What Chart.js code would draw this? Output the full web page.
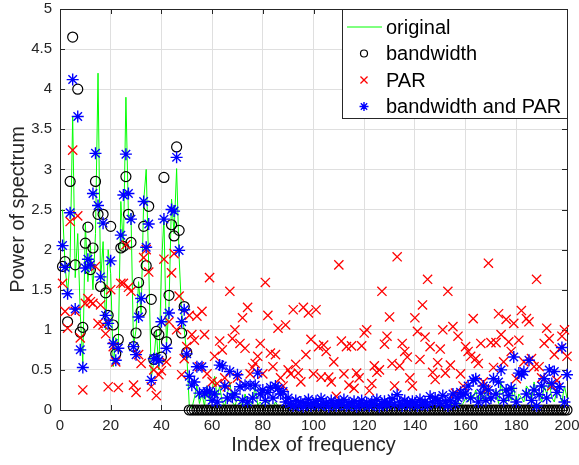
<!DOCTYPE html>
<html>
<head>
<meta charset="utf-8">
<script src="https://cdn.jsdelivr.net/npm/chart.js@4.4.0/dist/chart.umd.min.js"></script>
<style>
  html, body { margin: 0; padding: 0; background: #fff; }
  #wrap { width: 579px; height: 465px; }
</style>
</head>
<body>
<div id="wrap"><canvas id="spectrum"></canvas></div>
<script>
// spectrum power per frequency index (1..200)
const original = [
  2.5, 1.8, 1.45, 1.9, 3.66, 1.65, 2.2, 1.2, 0.58, 2.33,
  1.6, 2.05, 1.5, 2.2, 4.2, 1.6, 2.1, 1.0, 2.0, 1.7,
  0.54, 0.9, 0.8, 2.6, 2.0, 3.9, 2.4, 2.45, 0.8, 1.0,
  1.6, 1.2, 2.6, 3.0, 1.8, 0.4, 0.6, 1.0, 0.5, 1.77,
  2.4, 0.8, 1.3, 2.63, 2.2, 3.01, 1.9, 1.2, 1.0, 0.7,
  0.05, 0.02, 0.15, 0.30, 0.08, 0.20, 0.05, 0.30, 0.10, 0.25,
  0.42, 0.15, 0.30, 0.10, 0.05, 0.20, 0.35, 0.10, 0.05, 0.15,
  0.10, 0.05, 0.20, 0.08, 0.05, 0.12, 0.30, 0.06, 0.10, 0.05,
  0.08, 0.12, 0.05, 0.03, 0.10, 0.05, 0.02, 0.06, 0.03, 0.02,
  0.03, 0.01, 0.04, 0.02, 0.03, 0.05, 0.02, 0.01, 0.03, 0.02,
  0.04, 0.02, 0.03, 0.01, 0.02, 0.04, 0.03, 0.02, 0.01, 0.03,
  0.02, 0.04, 0.01, 0.03, 0.02, 0.01, 0.03, 0.02, 0.04, 0.02,
  0.01, 0.03, 0.02, 0.04, 0.01, 0.02, 0.03, 0.01, 0.02, 0.04,
  0.02, 0.03, 0.05, 0.02, 0.01, 0.03, 0.02, 0.04, 0.02, 0.03,
  0.01, 0.02, 0.04, 0.03, 0.02, 0.05, 0.03, 0.02, 0.04, 0.03,
  0.02, 0.05, 0.03, 0.08, 0.05, 0.10, 0.12, 0.05, 0.08, 0.15,
  0.10, 0.20, 0.15, 0.25, 0.10, 0.20, 0.12, 0.30, 0.15, 0.10,
  0.18, 0.25, 0.08, 0.35, 0.15, 0.10, 0.20, 0.12, 0.30, 0.05,
  0.20, 0.15, 0.10, 0.30, 0.25, 0.12, 0.35, 0.20, 0.18, 0.10,
  0.30, 0.20, 0.35, 0.15, 0.10, 0.25, 0.20, 0.10, 0.30, 0.15
];

const bandwidth = [
  1.79, 1.85, 1.10, 2.85, 4.65, 1.81, 4.00, 0.97, 1.03, 2.08,
  2.28, 1.75, 2.02, 2.85, 2.44, 1.54, 2.44, 1.46, 1.18, 2.29,
  1.06, 0.70, 0.88, 2.02, 2.04, 2.91, 2.44, 2.09, 0.79, 0.96,
  1.59, 1.23, 2.29, 1.80, 2.54, 1.38, 0.63, 0.98, 0.94, 0.66,
  2.90, 0.85, 1.43, 2.31, 2.17, 3.28, 2.24, 0.96, 1.29, 0.72,
  0, 0, 0, 0, 0, 0, 0, 0, 0, 0,
  0, 0, 0, 0, 0, 0, 0, 0, 0, 0,
  0, 0, 0, 0, 0, 0, 0, 0, 0, 0,
  0, 0, 0, 0, 0, 0, 0, 0, 0, 0,
  0, 0, 0, 0, 0, 0, 0, 0, 0, 0,
  0, 0, 0, 0, 0, 0, 0, 0, 0, 0,
  0, 0, 0, 0, 0, 0, 0, 0, 0, 0,
  0, 0, 0, 0, 0, 0, 0, 0, 0, 0,
  0, 0, 0, 0, 0, 0, 0, 0, 0, 0,
  0, 0, 0, 0, 0, 0, 0, 0, 0, 0,
  0, 0, 0, 0, 0, 0, 0, 0, 0, 0,
  0, 0, 0, 0, 0, 0, 0, 0, 0, 0,
  0, 0, 0, 0, 0, 0, 0, 0, 0, 0,
  0, 0, 0, 0, 0, 0, 0, 0, 0, 0,
  0, 0, 0, 0, 0, 0, 0, 0, 0, 0
];

const par = [
  1.58, 1.23, 1.02, 2.35, 3.24, 1.23, 2.42, 0.90, 0.25, 1.33,
  1.39, 1.35, 1.33, 1.79, 1.08, 1.31, 1.06, 0.95, 0.29, 1.50,
  0.79, 0.60, 0.28, 1.58, 1.58, 2.06, 1.53, 1.48, 0.31, 0.22,
  0.69, 0.58, 1.90, 2.00, 1.72, 0.29, 0.50, 0.18, 0.44, 0.49,
  1.88, 0.60, 1.10, 1.71, 1.95, 1.00, 1.42, 0.44, 0.64, 0.79,
  1.18, 0.94, 0.87, 1.17, 0.54, 1.23, 0.94, 0.45, 1.65, 0.35,
  0.67, 0.33, 0.86, 0.75, 0.40, 0.29, 1.48, 0.89, 1.00, 0.40,
  0.83, 1.15, 0.77, 1.28, 0.45, 0.53, 0.58, 0.67, 0.83, 0.45,
  1.59, 1.18, 0.71, 0.54, 0.69, 1.02, 0.40, 0.30, 1.06, 0.50,
  0.45, 1.25, 0.57, 0.46, 0.35, 1.28, 0.69, 1.21, 0.88, 0.45,
  1.25, 0.79, 0.41, 0.81, 0.73, 0.41, 0.35, 0.60, 0.17, 1.81,
  0.86, 0.45, 0.79, 0.31, 0.80, 0.27, 0.46, 0.40, 0.80, 0.96,
  1.00, 0.24, 0.33, 0.55, 0.47, 0.50, 1.48, 0.82, 0.92, 1.16,
  0.58, 0.30, 1.91, 0.55, 0.83, 0.73, 0.66, 0.40, 0.30, 1.15,
  0.98, 0.63, 1.31, 0.91, 1.63, 0.79, 0.47, 0.38, 0.59, 0.76,
  1.00, 0.46, 1.48, 0.56, 1.04, 0.21, 0.92, 0.45, 0.30, 0.79,
  0.73, 0.67, 1.14, 0.64, 0.58, 0.83, 0.35, 0.25, 1.83, 0.84,
  0.53, 0.84, 1.20, 0.94, 0.60, 1.13, 0.85, 0.73, 1.08, 0.39,
  0.87, 1.24, 0.60, 1.14, 1.10, 0.64, 0.54, 1.63, 0.54, 0.40,
  0.83, 1.02, 0.89, 0.30, 0.69, 0.37, 0.76, 0.92, 1.00, 0.67
];

const bandwidthPar = [
  2.05, 1.78, 1.45, 2.46, 4.12, 1.26, 3.66, 0.75, 0.53, 1.77,
  1.88, 1.81, 2.70, 3.20, 2.55, 1.66, 2.33, 1.18, 1.08, 1.86,
  0.83, 0.62, 0.77, 2.18, 2.68, 3.19, 2.70, 2.38, 0.79, 0.69,
  1.16, 1.39, 2.60, 2.03, 2.32, 0.37, 0.64, 0.64, 0.62, 1.10,
  2.38, 0.77, 1.21, 2.50, 2.48, 3.15, 1.99, 1.10, 1.25, 0.70,
  0.42, 0.31, 0.35, 0.54, 0.21, 0.54, 0.21, 0.23, 0.23, 0.12,
  0.20, 0.10, 0.56, 0.55, 0.30, 0.15, 0.48, 0.16, 0.20, 0.44,
  0.29, 0.12, 0.31, 0.10, 0.31, 0.15, 0.31, 0.46, 0.20, 0.25,
  0.12, 0.22, 0.28, 0.15, 0.30, 0.27, 0.20, 0.23, 0.10, 0.15,
  0.08, 0.05, 0.12, 0.06, 0.10, 0.04, 0.09, 0.13, 0.05, 0.08,
  0.11, 0.06, 0.14, 0.07, 0.09, 0.04, 0.12, 0.08, 0.05, 0.10,
  0.07, 0.13, 0.05, 0.09, 0.06, 0.11, 0.04, 0.08, 0.12, 0.06,
  0.09, 0.05, 0.10, 0.07, 0.13, 0.04, 0.08, 0.11, 0.06, 0.09,
  0.14, 0.07, 0.19, 0.10, 0.05, 0.12, 0.08, 0.06, 0.11, 0.09,
  0.05, 0.13, 0.07, 0.10, 0.06, 0.17, 0.10, 0.15, 0.12, 0.08,
  0.18, 0.10, 0.05, 0.12, 0.20, 0.08, 0.15, 0.22, 0.19, 0.21,
  0.30, 0.15, 0.37, 0.39, 0.10, 0.21, 0.30, 0.12, 0.25, 0.15,
  0.39, 0.20, 0.35, 0.50, 0.12, 0.25, 0.18, 0.27, 0.66, 0.10,
  0.46, 0.44, 0.48, 0.20, 0.62, 0.12, 0.25, 0.05, 0.19, 0.30,
  0.39, 0.15, 0.50, 0.33, 0.48, 0.22, 0.29, 0.78, 0.10, 0.44
];

const xTicks = [0, 20, 40, 60, 80, 100, 120, 140, 160, 180, 200];
const yTicks = [0, 0.5, 1, 1.5, 2, 2.5, 3, 3.5, 4, 4.5, 5];

const FONT = "'Liberation Sans', Arial, Helvetica, sans-serif";
const AXIS_COLOR = '#262626';

const toPoints = arr => arr.map((v, i) => ({ x: i + 1, y: v }));

// axes box with inward ticks on all four sides (drawn under the markers)
const axesBox = {
  id: 'axesBox',
  beforeDatasetsDraw(chart) {
    const { ctx, chartArea: a, scales } = chart;
    ctx.save();
    ctx.strokeStyle = AXIS_COLOR;
    ctx.lineWidth = 1;
    ctx.beginPath();
    xTicks.forEach(v => {
      const px = Math.round(scales.x.getPixelForValue(v)) + 0.5;
      ctx.moveTo(px, a.bottom); ctx.lineTo(px, a.bottom - 5);
      ctx.moveTo(px, a.top); ctx.lineTo(px, a.top + 5);
    });
    yTicks.forEach(v => {
      const py = Math.round(scales.y.getPixelForValue(v)) + 0.5;
      ctx.moveTo(a.left, py); ctx.lineTo(a.left + 5, py);
      ctx.moveTo(a.right, py); ctx.lineTo(a.right - 5, py);
    });
    ctx.stroke();
    ctx.strokeRect(Math.round(a.left) + 0.5, Math.round(a.top) + 0.5,
      Math.round(a.right - a.left), Math.round(a.bottom - a.top));
    ctx.restore();
  }
};

// boxed legend in the top-right corner of the plot
const boxLegend = {
  id: 'boxLegend',
  afterDraw(chart) {
    const { ctx, chartArea: a } = chart;
    const w = 225, h = 109;
    const x0 = Math.round(a.right - w), y0 = Math.round(a.top);
    ctx.save();
    ctx.fillStyle = '#fff';
    ctx.fillRect(x0, y0, w, h);
    ctx.strokeStyle = AXIS_COLOR;
    ctx.lineWidth = 1;
    ctx.strokeRect(x0 + 0.5, y0 + 0.5, w, h);
    ctx.font = '20px ' + FONT;
    ctx.textBaseline = 'middle';
    ctx.textAlign = 'left';
    chart.data.datasets.forEach((ds, i) => {
      const cy = y0 + 18 + i * 26.5;
      if (ds.showLine) {
        ctx.strokeStyle = ds.borderColor;
        ctx.lineWidth = ds.borderWidth;
        ctx.beginPath();
        ctx.moveTo(x0 + 5, cy); ctx.lineTo(x0 + 40, cy);
        ctx.stroke();
      } else {
        ctx.strokeStyle = ds.pointBorderColor;
        ctx.fillStyle = 'rgba(0,0,0,0)';
        ctx.lineWidth = ds.pointBorderWidth;
        Chart.helpers.drawPoint(ctx, {
          pointStyle: ds.pointStyle, radius: ds.pointRadius - 1.5,
          rotation: 0, borderWidth: ds.pointBorderWidth
        }, x0 + 22, cy);
      }
      ctx.fillStyle = '#000';
      ctx.fillText(ds.label, x0 + 44, cy + 1);
    });
    ctx.restore();
  }
};

new Chart(document.getElementById('spectrum'), {
  type: 'scatter',
  data: {
    datasets: [
      {
        label: 'original',
        data: toPoints(original),
        showLine: true,
        borderColor: '#00ff00',
        borderWidth: 1,
        pointRadius: 0,
        order: 4
      },
      {
        label: 'bandwidth',
        data: toPoints(bandwidth),
        pointStyle: 'circle',
        pointRadius: 5,
        pointBorderWidth: 1.2,
        pointBorderColor: '#000000',
        pointBackgroundColor: 'rgba(0,0,0,0)',
        clip: false,
        order: 3
      },
      {
        label: 'PAR',
        data: toPoints(par),
        pointStyle: 'crossRot',
        pointRadius: 6.5,
        pointBorderWidth: 1.3,
        pointBorderColor: '#ff0000',
        clip: false,
        order: 2
      },
      {
        label: 'bandwidth and PAR',
        data: toPoints(bandwidthPar),
        pointStyle: 'star',
        pointRadius: 6,
        pointBorderWidth: 1.4,
        pointBorderColor: '#0000ff',
        clip: false,
        order: 1
      }
    ]
  },
  options: {
    responsive: true,
    maintainAspectRatio: false,
    animation: false,
    layout: { padding: { top: 9, right: 12, left: 0, bottom: 0 } },
    plugins: {
      legend: { display: false },
      tooltip: { enabled: false }
    },
    scales: {
      x: {
        type: 'linear',
        min: 0,
        max: 200,
        afterBuildTicks: axis => { axis.ticks = xTicks.map(v => ({ value: v })); },
        afterFit: scale => {
          scale.height = 55;
          scale.paddingLeft = 0;
          scale.paddingRight = 0;
        },
        grid: { color: '#dfdfdf', drawTicks: false },
        border: { display: false },
        ticks: {
          color: AXIS_COLOR,
          padding: 7,
          maxRotation: 0,
          font: { family: FONT, size: 15 },
          callback: v => String(v)
        },
        title: {
          display: true,
          text: 'Index of frequency',
          color: AXIS_COLOR,
          font: { family: FONT, size: 20 },
          padding: { top: 0, bottom: 8 }
        }
      },
      y: {
        type: 'linear',
        min: 0,
        max: 5,
        afterBuildTicks: axis => { axis.ticks = yTicks.map(v => ({ value: v })); },
        afterFit: scale => {
          scale.width = 60;
          scale.paddingTop = 0;
          scale.paddingBottom = 0;
        },
        grid: { color: '#dfdfdf', drawTicks: false },
        border: { display: false },
        ticks: {
          color: AXIS_COLOR,
          padding: 8,
          font: { family: FONT, size: 15 },
          callback: v => String(v)
        },
        title: {
          display: true,
          text: 'Power of spectrum',
          color: AXIS_COLOR,
          font: { family: FONT, size: 20 },
          padding: { top: 6, bottom: 0 }
        }
      }
    }
  },
  plugins: [axesBox, boxLegend]
});
</script>
</body>
</html>
